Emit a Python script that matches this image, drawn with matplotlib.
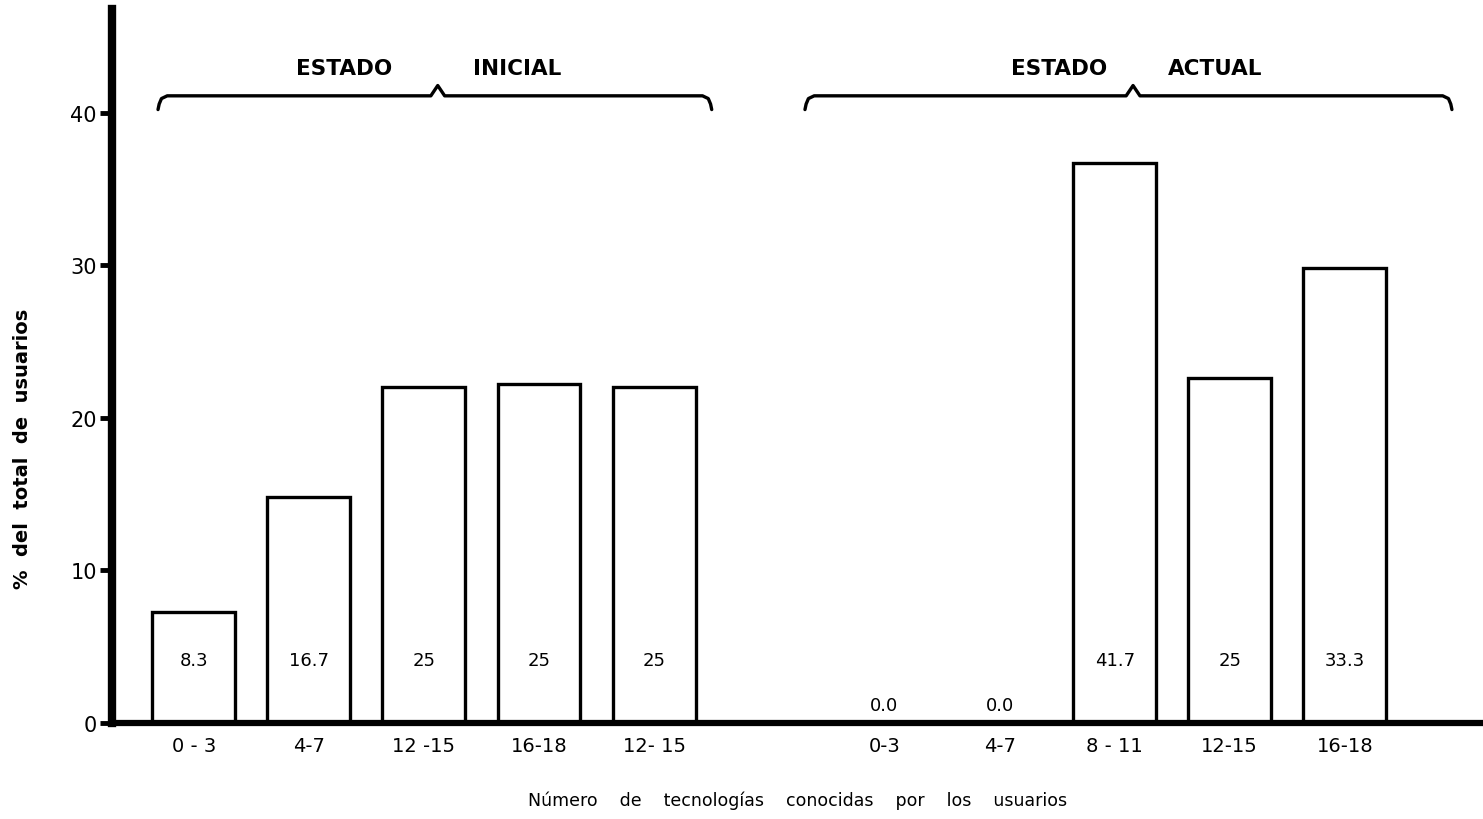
import numpy as np
import matplotlib as mpl
mpl.use('Agg')
import matplotlib.pyplot as plt

# categories for the two states
inicial_cats = ['0 - 3', '4-7', '12 -15', '16-18', '12- 15']
actual_cats = ['0-3', '4-7', '8 - 11', '12-15', '16-18']
# bar heights as drawn on the page
inicial_heights = [7.3, 14.8, 22.0, 22.2, 22.0]
actual_heights = [0.0, 0.0, 36.7, 22.6, 29.8]
# numbers written inside the bars
inicial_labels = ['8.3', '16.7', '25', '25', '25']
actual_labels = ['0.0', '0.0', '41.7', '25', '33.3']
yticks = [0, 10, 20, 30, 40]

inicial_x = np.arange(5)
actual_x = np.arange(5) + 6


def brace(ax, x0, x1, xm, y, h):
	d = 0.08
	xs = [x0, x0 + 0.01, x0 + 0.03, x0 + d, xm - 0.06, xm, xm + 0.06, x1 - d, x1 - 0.03, x1 - 0.01, x1]
	ys = [y - h, y - h * 0.6, y - h * 0.2, y, y, y + h * 0.75, y, y, y - h * 0.2, y - h * 0.6, y - h]
	ax.plot(xs, ys, color='black', lw=2.4, solid_capstyle='round', clip_on=False)


fig = plt.figure(figsize=(14.83, 8.2), dpi=100)
ax = fig.add_axes([0.0755, 0.117, 0.9245, 0.871])

bkw = dict(width=0.72, facecolor='white', edgecolor='black', linewidth=2.4)
ax.bar(inicial_x, inicial_heights, **bkw)
ax.bar(actual_x[2:], actual_heights[2:], **bkw)

for x, h, t in zip(inicial_x, inicial_heights, inicial_labels):
	ax.text(x, 4.1, t, ha='center', va='center', fontsize=13)
for x, h, t in zip(actual_x, actual_heights, actual_labels):
	if h > 0:
		ax.text(x, 4.1, t, ha='center', va='center', fontsize=13)
	else:
		ax.text(x, 1.2, t, ha='center', va='center', fontsize=13)

ax.set_xlim(-0.71, 11.2)
ax.set_ylim(0, 46.8)
ax.set_yticks(yticks)
ax.set_yticklabels([str(v) for v in yticks], fontsize=15)
ax.set_xticks(list(inicial_x) + list(actual_x))
ax.set_xticklabels(inicial_cats + actual_cats, fontsize=14)
ax.tick_params(axis='y', length=9, width=3.5, pad=2)
ax.tick_params(axis='x', length=0, pad=9)

for s in ['top', 'right']:
	ax.spines[s].set_visible(False)
ax.spines['left'].set_linewidth(6)
ax.spines['bottom'].set_linewidth(4.5)

ax.set_ylabel('%  del  total  de  usuarios', fontsize=14, fontweight='bold')
ax.yaxis.set_label_coords(-0.058, 0.385)
ax.set_xlabel('Número    de    tecnologías    conocidas    por    los    usuarios',
	fontsize=12.5, labelpad=26)

brace(ax, -0.31, 4.5, 2.12, 41.1, 0.9)
brace(ax, 5.31, 10.93, 8.16, 41.1, 0.9)
hkw = dict(ha='center', va='center', fontsize=15.5, fontweight='bold')
ax.text(1.31, 42.9, 'ESTADO', **hkw)
ax.text(2.81, 42.9, 'INICIAL', **hkw)
ax.text(7.52, 42.9, 'ESTADO', **hkw)
ax.text(8.87, 42.9, 'ACTUAL', **hkw)

plt.savefig('out.png', dpi=100)
plt.close()
